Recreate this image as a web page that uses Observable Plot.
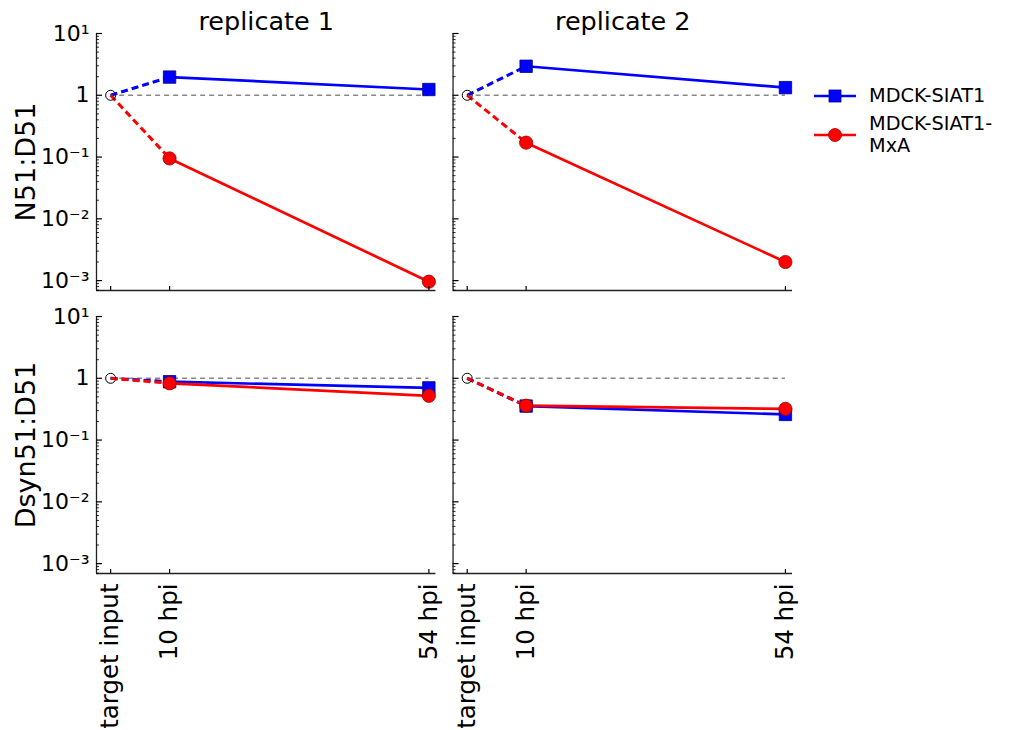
<!DOCTYPE html>
<html>
<head>
<meta charset="utf-8">
<script src="https://cdn.jsdelivr.net/npm/d3@7"></script>
<script src="https://cdn.jsdelivr.net/npm/@observablehq/plot@0.6"></script>
<style>
  html, body { margin: 0; padding: 0; background: #fff; }
  #wrap { position: relative; width: 1009px; height: 730px; font-family: "DejaVu Sans", sans-serif; }
  #legend { position: absolute; left: 812px; top: 85px; font-size: 19.3px; color: #000; }
  .item { display: flex; align-items: center; margin-bottom: 6px; }
  .item svg { flex: none; }
  .item span { margin-left: 11px; line-height: 22px; }
</style>
</head>
<body>
<div id="wrap"><div id="legend"></div></div>
<script>
// ---- data ----
const conditions = ["target input", "10 hpi", "54 hpi"];
const hours = [0, 10, 54];
const replicates = ["replicate 1", "replicate 2"];
const ratios = ["N51:D51", "Dsyn51:D51"];
const cellLines = ["MDCK-SIAT1", "MDCK-SIAT1-MxA"];
const lineColors = ["#0000ff", "#ff0000"];

// values at target input, 10 hpi, 54 hpi
const siat_N51_rep1 = [1, 1.97, 1.24];
const siat_N51_rep2 = [1, 2.95, 1.33];
const mxa_N51_rep1 = [1, 0.095, 0.00096];
const mxa_N51_rep2 = [1, 0.171, 0.0020];
const siat_Dsyn_rep1 = [1, 0.88, 0.70];
const siat_Dsyn_rep2 = [1, 0.355, 0.26];
const mxa_Dsyn_rep1 = [1, 0.83, 0.52];
const mxa_Dsyn_rep2 = [1, 0.36, 0.32];

const yTickValues = [1e-3, 1e-2, 1e-1, 1, 10];
const yTickLabels = ["10\u207B\u00B3", "10\u207B\u00B2", "10\u207B\u00B9", "1", "10\u00B9"];

// ---- table ----
const series = [
  [cellLines[0], ratios[0], replicates[0], siat_N51_rep1],
  [cellLines[0], ratios[0], replicates[1], siat_N51_rep2],
  [cellLines[1], ratios[0], replicates[0], mxa_N51_rep1],
  [cellLines[1], ratios[0], replicates[1], mxa_N51_rep2],
  [cellLines[0], ratios[1], replicates[0], siat_Dsyn_rep1],
  [cellLines[0], ratios[1], replicates[1], siat_Dsyn_rep2],
  [cellLines[1], ratios[1], replicates[0], mxa_Dsyn_rep1],
  [cellLines[1], ratios[1], replicates[1], mxa_Dsyn_rep2]
];
const rows = [];
for (const [line, ratio, rep, vals] of series) {
  vals.forEach((v, i) => rows.push({line, ratio, rep, hour: hours[i], value: v}));
}
const byLine = (l) => rows.filter(d => d.line === l);

const xDomain = [-2.4, 55.2];
const yDomain = [Math.pow(10, -3.16), 10];
const minorTicks = [];
for (let e = -4; e <= 0; e++) for (let m = 2; m <= 9; m++) {
  const v = m * Math.pow(10, e);
  if (v >= yDomain[0] && v <= yDomain[1]) minorTicks.push(v);
}

const common = {x: "hour", y: "value", fx: "rep", fy: "ratio"};
const marks = [];
marks.push(Plot.ruleY([1], {x1: hours[0], x2: hours[2], stroke: "#888", strokeWidth: 1.6, strokeDasharray: "5,4"}));
cellLines.forEach((l, k) => {
  const data = byLine(l);
  marks.push(Plot.line(data.filter(d => d.hour <= hours[1]), {...common, stroke: lineColors[k], strokeWidth: 3, strokeDasharray: "7,4", strokeLinecap: "butt"}));
  marks.push(Plot.line(data.filter(d => d.hour >= hours[1]), {...common, stroke: lineColors[k], strokeWidth: 2.7}));
  marks.push(Plot.dot(data.filter(d => d.hour > hours[0]), {
    ...common,
    symbol: k === 0 ? "square" : "circle",
    r: k === 0 ? 7 : 6.6,
    fill: lineColors[k],
    stroke: k === 0 ? "#00007a" : "#9a0000",
    strokeWidth: 0.8
  }));
});
marks.push(Plot.dot(byLine(cellLines[0]).filter(d => d.hour === hours[0]), {...common, r: 5, fill: "none", stroke: "#000", strokeWidth: 1}));

// spines
marks.push(Plot.ruleX([xDomain[0]], {stroke: "#222", strokeWidth: 1.3}));
marks.push(Plot.ruleY([yDomain[0]], {stroke: "#222", strokeWidth: 1.3}));
// inward ticks, every panel
marks.push(Plot.axisY({ticks: yTickValues, tickSize: -6, fill: "none", stroke: "#000", strokeWidth: 1.2, facetAnchor: null, label: null}));
marks.push(Plot.axisY({ticks: minorTicks, tickSize: -3, fill: "none", stroke: "#000", strokeWidth: 0.8, facetAnchor: null, label: null}));
marks.push(Plot.axisX({ticks: hours, tickSize: -4, fill: "none", stroke: "#000", strokeWidth: 1.2, facetAnchor: null, label: null}));
// tick labels
marks.push(Plot.axisY({ticks: yTickValues, tickSize: 0, tickPadding: 7, tickFormat: d => yTickLabels[yTickValues.indexOf(d)], fontSize: 22, label: null}));
marks.push(Plot.axisX({ticks: hours, tickSize: 0, tickPadding: 10, tickRotate: -90, tickFormat: d => conditions[hours.indexOf(d)], fontSize: 24.5, label: null}));
// row labels & column titles
marks.push(Plot.text(ratios, {fy: d => d, fx: () => replicates[0], text: d => d, frameAnchor: "left", textAnchor: "middle", rotate: -90, dx: -70, fontSize: 27}));
marks.push(Plot.text(replicates, {fx: d => d, fy: () => ratios[0], text: d => d, frameAnchor: "top", lineAnchor: "bottom", dy: -4, fontSize: 25.5}));

const chart = Plot.plot({
  width: 1009,
  height: 730,
  marginLeft: 96,
  marginRight: 217,
  marginTop: 33,
  marginBottom: 157,
  style: {fontFamily: "DejaVu Sans", background: "white", color: "#000"},
  x: {domain: xDomain, axis: null},
  y: {type: "log", domain: yDomain, axis: null},
  fx: {domain: replicates, paddingInner: 0.048, paddingOuter: 0, round: false, axis: null},
  fy: {domain: ratios, paddingInner: 0.092, paddingOuter: 0, round: false, axis: null},
  marks
});
document.getElementById("wrap").prepend(chart);

// legend
const legend = d3.select("#legend");
const items = [
  {label: ["MDCK-SIAT1"], color: lineColors[0], shape: "square"},
  {label: ["MDCK-SIAT1-", "MxA"], color: lineColors[1], shape: "circle"}
];
items.forEach(it => {
  const row = legend.append("div").attr("class", "item");
  const svg = row.append("svg").attr("width", 46).attr("height", 16);
  svg.append("line").attr("x1", 2).attr("x2", 44).attr("y1", 8).attr("y2", 8)
    .attr("stroke", it.color).attr("stroke-width", 2.7);
  if (it.shape === "square") {
    svg.append("rect").attr("x", 17).attr("y", 2).attr("width", 12).attr("height", 12)
      .attr("fill", it.color).attr("stroke", "#00007a").attr("stroke-width", 0.8);
  } else {
    svg.append("circle").attr("cx", 23).attr("cy", 8).attr("r", 6.5)
      .attr("fill", it.color).attr("stroke", "#9a0000").attr("stroke-width", 0.8);
  }
  row.append("span").html(it.label.join("<br>"));
});
</script>
</body>
</html>
